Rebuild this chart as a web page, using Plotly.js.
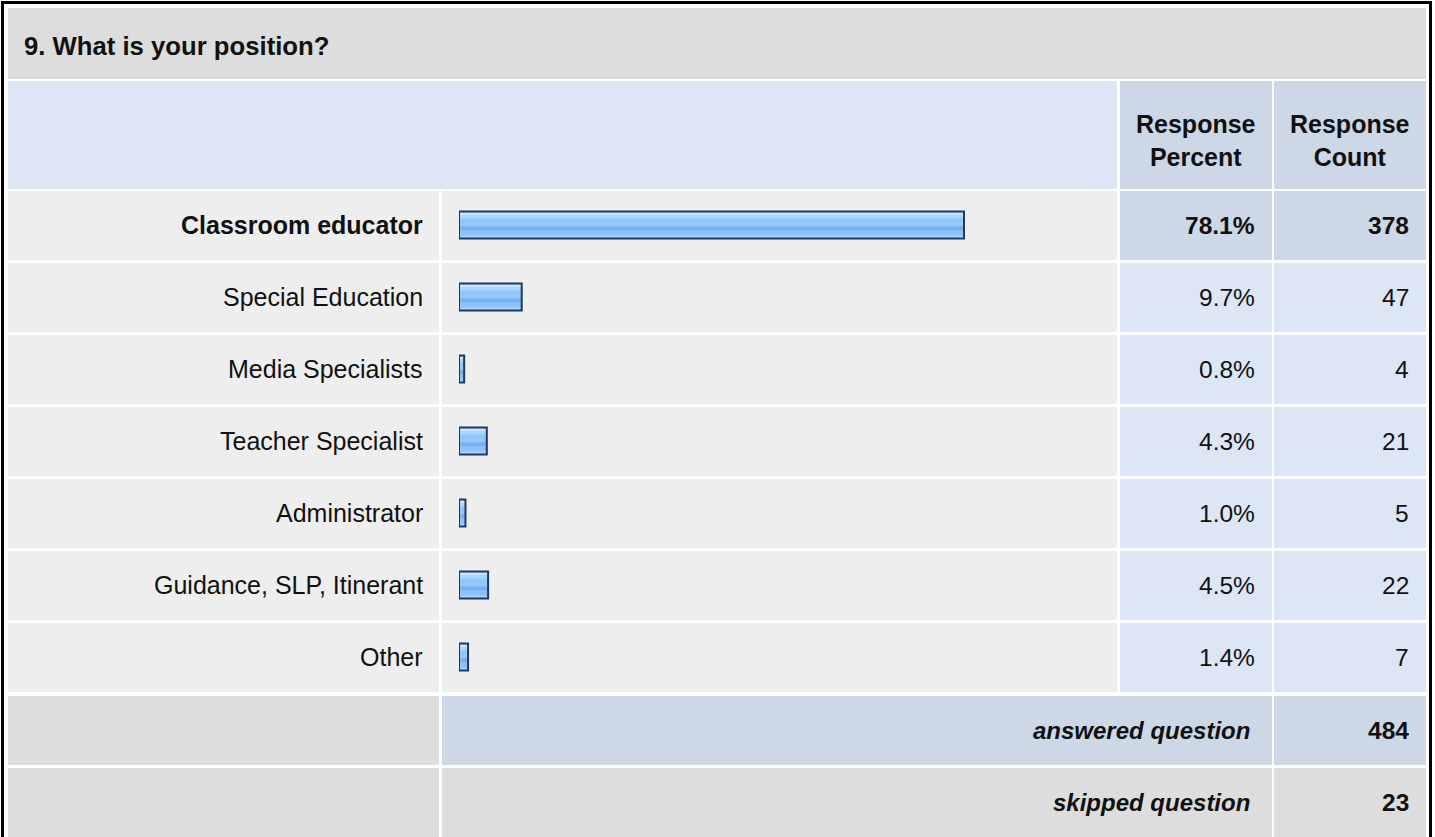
<!DOCTYPE html>
<html>
<head>
<meta charset="utf-8">
<script src="https://cdn.plot.ly/plotly-3.0.1.min.js"></script>
<style>
  html, body { margin: 0; padding: 0; background: #ffffff; }
  #chart { width: 1435px; height: 837px; }
</style>
</head>
<body>
<div id="chart"></div>
<script>
// ---- data ----
const questionTitle = "9. What is your position?";
const categories = ["Classroom educator", "Special Education", "Media Specialists", "Teacher Specialist", "Administrator", "Guidance, SLP, Itinerant", "Other"];
const responsePercent = [78.1, 9.7, 0.8, 4.3, 1.0, 4.5, 1.4];
const responseCount = [378, 47, 4, 21, 5, 22, 7];
const columnHeaders = ["Response<br>Percent", "Response<br>Count"];
const summaryLabels = ["answered question", "skipped question"];
const summaryCounts = [484, 23];

// ---- geometry helpers (pixel -> paper) ----
const W = 1435, H = 837;
const FONT = "Liberation Sans, Arial, Helvetica, sans-serif";
const px = x => x / W;
const py = y => 1 - y / H;
const ROW_PITCH = 72;
function cell(x0, y0, x1, y1, color) {
  return { type: 'rect', xref: 'paper', yref: 'paper',
    x0: px(x0), x1: px(x1), y0: py(y1), y1: py(y0),
    fillcolor: color, line: { width: 0 }, layer: 'below' };
}

const C_GRAY = '#dddddd', C_ROW = '#eeeeee', C_LBLUE = '#dce6f4', C_DBLUE = '#ccd8e6';
const topIdx = responseCount.indexOf(Math.max(...responseCount));

// columns
const colLabel = [8, 439], colBar = [442, 1117], colPct = [1120, 1272], colCnt = [1274, 1426];

const shapes = [];
// title row
shapes.push(cell(8, 8, 1426, 79, C_GRAY));
// header row
shapes.push(cell(colLabel[0], 81, colBar[1], 189, C_LBLUE));
shapes.push(cell(colPct[0], 81, colPct[1], 189, C_DBLUE));
shapes.push(cell(colCnt[0], 81, colCnt[1], 189, C_DBLUE));
// data rows
categories.forEach((c, i) => {
  const t = 191 + ROW_PITCH * i, b = 260 + ROW_PITCH * i;
  const valColor = i === topIdx ? C_DBLUE : C_LBLUE;
  shapes.push(cell(colLabel[0], t, colLabel[1], b, C_ROW));
  shapes.push(cell(colBar[0], t, colBar[1], b, C_ROW));
  shapes.push(cell(colPct[0], t, colPct[1], b, valColor));
  shapes.push(cell(colCnt[0], t, colCnt[1], b, valColor));
});
// summary rows
const sumTop = 191 + ROW_PITCH * categories.length + 1;
summaryLabels.forEach((s, k) => {
  const t = sumTop + ROW_PITCH * k, b = t + 69 + (k === summaryLabels.length - 1 ? 20 : 0);
  const c = k === 0 ? C_DBLUE : C_GRAY;
  shapes.push(cell(colLabel[0], t, colLabel[1], b, C_GRAY));
  shapes.push(cell(colBar[0], t, colPct[1], b, c));
  shapes.push(cell(colCnt[0], t, colCnt[1], b, c));
});
// outer frame
shapes.push({ type: 'rect', xref: 'paper', yref: 'paper',
  x0: px(2.5), x1: px(1430.5), y0: py(860), y1: py(2.5),
  fillcolor: 'rgba(0,0,0,0)', line: { color: '#000000', width: 3 }, layer: 'above' });

// ---- bar traces: striped fill + outline ----
const yIdx = categories.map((c, i) => i);
const stripes = [
  { color: '#93c6f9', from: -13.5, to: 13.5 },
  { color: '#c4e2ff', from: -13.5, to: -9.5 },
  { color: '#abd5fd', from: -9.5, to: -6.5 },
  { color: '#79afef', from: 1.5, to: 5.5 },
  { color: '#8bc1f8', from: 5.5, to: 10.5 },
  { color: '#a6d1fb', from: 10.5, to: 13.5 }
];
const traces = stripes.map(s => ({
  type: 'bar', orientation: 'h', x: responsePercent, y: yIdx,
  width: (s.to - s.from) / ROW_PITCH, offset: s.from / ROW_PITCH,
  marker: { color: s.color, line: { width: 0 } },
  hoverinfo: 'skip', showlegend: false
}));
traces.push({
  type: 'bar', orientation: 'h', x: responsePercent, y: yIdx,
  width: 27 / ROW_PITCH, offset: -13.5 / ROW_PITCH,
  marker: { color: 'rgba(0,0,0,0)', line: { color: '#1d3a60', width: 2 } },
  hoverinfo: 'skip', showlegend: false
});

// ---- text annotations ----
const ann = [];
const txt = (text, x, y, xanchor, opts = {}) => Object.assign({
  text, x, y, xref: 'paper', yref: 'paper', xanchor, yanchor: 'middle',
  showarrow: false, font: { family: FONT, size: 24, color: '#111111' }
}, opts);

// headers
columnHeaders.forEach((h, k) => {
  const col = k === 0 ? colPct : colCnt;
  ann.push(txt(h, px((col[0] + col[1]) / 2), py(140), 'center',
    { align: 'center', font: { family: FONT, size: 25, color: '#111111', weight: 'bold' } }));
});
// rows
categories.forEach((c, i) => {
  const w = i === topIdx ? 'bold' : 'normal';
  const fl = { family: FONT, size: 25, color: '#111111', weight: w };
  const fn = { family: FONT, size: 24.5, color: '#111111', weight: w };
  ann.push(txt(c, px(425), i, 'right', { yref: 'y', font: fl }));
  ann.push(txt(responsePercent[i].toFixed(1) + '%', px(1257), i, 'right', { yref: 'y', font: fn }));
  ann.push(txt(String(responseCount[i]), px(1411), i, 'right', { yref: 'y', font: fn }));
});
// summary
summaryLabels.forEach((s, k) => {
  const yc = sumTop + ROW_PITCH * k + 34.5;
  ann.push(txt(s, px(1252), py(yc), 'right',
    { font: { family: FONT, size: 24, color: '#111111', weight: 'bold', style: 'italic' } }));
  ann.push(txt(String(summaryCounts[k]), px(1411), py(yc), 'right',
    { font: { family: FONT, size: 24.5, color: '#111111', weight: 'bold' } }));
});

const rowCenter0 = 225;
const layout = {
  width: W, height: H,
  margin: { l: 0, r: 0, t: 0, b: 0, pad: 0 },
  paper_bgcolor: '#ffffff', plot_bgcolor: 'rgba(0,0,0,0)',
  barmode: 'overlay', showlegend: false,
  title: { text: '<b>' + questionTitle + '</b>', x: px(24), xanchor: 'left', xref: 'paper',
    y: py(46), yanchor: 'middle', yref: 'paper',
    font: { family: FONT, size: 25.7, color: '#111111' } },
  xaxis: { domain: [px(459), px(1105.6)], range: [0, 100], showgrid: false, zeroline: false,
    showticklabels: false, showline: false, ticks: '', fixedrange: true },
  yaxis: { domain: [py(rowCenter0 + ROW_PITCH * (categories.length - 0.5)), py(rowCenter0 - ROW_PITCH / 2)],
    range: [categories.length - 0.5, -0.5], showgrid: false, zeroline: false,
    showticklabels: false, showline: false, ticks: '', fixedrange: true },
  shapes, annotations: ann
};

Plotly.newPlot('chart', traces, layout, { staticPlot: true, displayModeBar: false });
</script>
</body>
</html>
